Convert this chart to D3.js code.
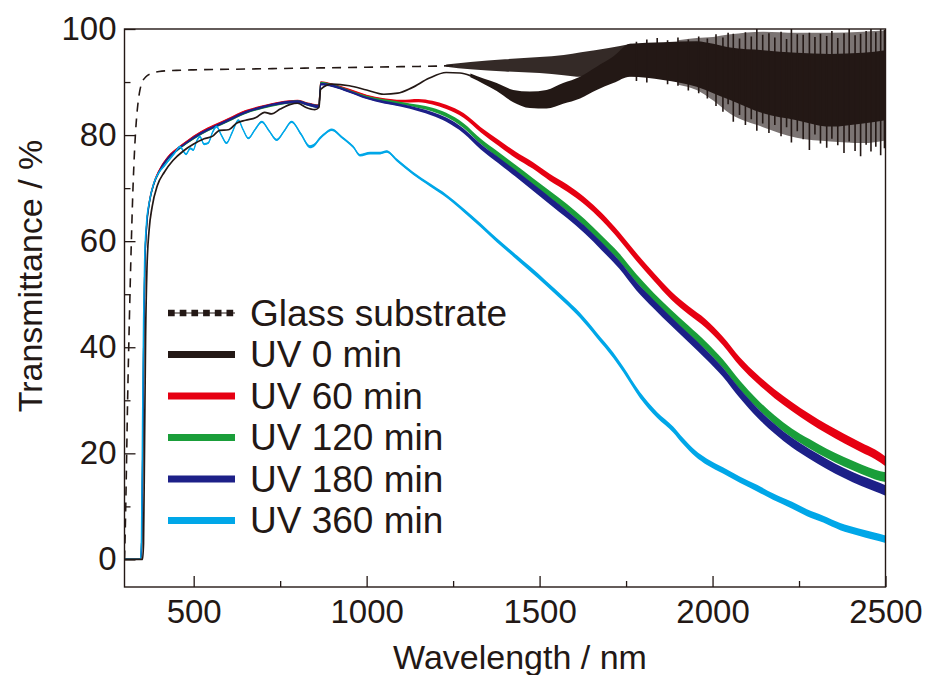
<!DOCTYPE html>
<html lang="en">
<head>
<meta charset="UTF-8">
<title>Transmittance spectra</title>
<script src="https://d3js.org/d3.v7.min.js"></script>
<style>
    body { margin: 0; background: #fff; }
    svg { display: block; font-family: "Liberation Sans", Arial, sans-serif; }
    .tick text { fill: #231815; font-size: 33px; }
    .tick line { stroke: #231815; stroke-width: 1.3; }
    .title { fill: #231815; font-size: 34px; }
    .legend text { fill: #231815; font-size: 37px; }
</style>
</head>
<body>
<svg width="928" height="675"></svg>
<script>
    // ---- data: [wavelength nm, T %, noise half-width %] ----
    const glass = [[300,0],[302,5],[305,15],[309,30],[314,45],[319,58],[324,69],[329,77],[334,82.5],[339,86],[345,88.6],
        [352,90.1],[362,91],[378,91.6],[400,92],[450,92.2],[500,92.3],[600,92.4],[700,92.5],[800,92.6],[900,92.7],
        [1000,92.8],[1100,92.9],[1200,93],[1250,93.1]];
    // noisy part of the glass trace: [nm, low, high]
    const glassBand = [[1230,92.9,93.3],[1300,92.4,93.8],[1400,92,94.3],[1500,91.7,94.7],[1570,91.3,95.1],[1620,91,95.6],
        [1700,91.1,96.4],[1765,91.1,97.2]];

    const uv0 = [[300,0],[352,0],[355,3],[358,22],[361,42],[365,55],[371,62],[380,66.5],[395,70.5],[415,73],[440,75.2],
        [470,77],[500,78.3],[530,79.3],[555,79.8],[575,80.9],[600,81],[625,82.3],[650,82.8],[680,83.3],[705,84.3],
        [725,84],[750,84.9],[780,85.8],[800,86],[825,85.2],[850,84.8],[862,85.2],[867,88.6],[900,89.6],[950,89.3],
        [1000,88.5],[1050,87.7],[1090,87.9],[1130,88.9],[1180,90.7],[1230,91.8],[1270,91.7],[1300,91.2],[1340,90]];
    // interference fringes of UV 0 min (dense core): [nm, low, high]
    const uv0Band = [[1300,90.9,91.6],[1340,89.6,90.6],[1376,88.3,89.8],[1424,86.2,88.5],[1472,85.1,88.2],[1520,85,88.5],
        [1568,85.9,89.8],[1617,86.9,91],[1665,88.5,92.9],[1713,89.8,94.8],[1761,91,97.2],[1857,90.4,97.5],
        [1954,89.1,97.7],[2002,87.9,97.2],[2051,86.6,96.5],[2146,84.1,96],[2243,82.8,95.5],[2340,81.6,95.3],
        [2435,82.2,95.5],[2500,82.8,96]];
    // outer, sparse part of the fringes
    const uv0Fringe = [[1900,89.5,97.9],[1954,88.5,98.3],[2002,86.5,98.5],[2051,84,99],[2146,81.5,99.5],[2243,79.5,99.3],
        [2340,78.8,99.3],[2435,78.5,99.5],[2500,79,99.7]];
    // single tall fringe spikes: [nm, low, high]
    const uv0Spikes = [[1780,90.2,97.6],[1810,89.9,98],[1840,90.6,98.3],[1870,89.6,97.9],[1900,89.3,98.4],[1930,88.4,98],
        [1960,87.9,98.6],[1985,86.9,98.2],[2010,85.5,99],[2030,84.4,98.4],[2045,85.8,99.3],[2060,82.5,99.1],
        [2078,83.8,98.2],[2095,81.9,99.4],[2112,83,98.6],[2128,80.8,100],[2145,82.2,98.9],[2163,80.4,99.2],
        [2180,81.9,98.4],[2198,79.8,99.5],[2214,81.5,98.1],[2228,78.6,100],[2245,80.7,99],[2262,79.2,98.9],
        [2280,77.2,99.3],[2296,80.1,98.5],[2312,78.4,99.1],[2330,77.6,98.7],[2345,79.3,99.6],[2362,78.1,98.3],
        [2380,76.6,99.2],[2395,78.8,100],[2412,77,98.8],[2428,76,99.1],[2444,78.2,99.6],[2458,76.9,100],
        [2472,77.8,99.4],[2486,76.2,100],[2497,77.5,99.8]];

    const uv60 = [[300,0,0.12],[347,0,0.12],[350,4,0.15],[353,22,0.15],[356,44,0.15],[359,56,0.15],[364,63,0.15],[372,67.5,0.18],
        [385,71,0.2],[400,73.3,0.2],[425,75.8,0.2],[450,77.3,0.2],[480,78.8,0.2],[520,80.5,0.22],[560,81.8,0.22],
        [600,83,0.22],[650,84.5,0.22],[700,85.4,0.22],[750,86.1,0.22],[800,86.4,0.25],[830,85.9,0.25],[862,85.5,0.3],
        [867,89.9,0.25],[900,89.5,0.22],[950,88.5,0.22],[1000,87.4,0.22],[1050,86.7,0.25],[1100,86.4,0.25],
        [1150,86.5,0.3],[1190,86.1,0.35],[1230,85.3,0.4],[1280,83.7,0.45],[1330,81,0.5],[1380,78.6,0.55],
        [1430,76.3,0.6],[1480,74.3,0.62],[1530,72,0.65],[1580,70,0.68],[1630,67.6,0.7],[1680,64.6,0.72],[1730,61,0.72],
        [1780,57,0.75],[1830,53.3,0.75],[1880,49.8,0.78],[1930,47,0.78],[1980,44.5,0.8],[2030,41.2,0.8],[2080,37.2,0.82],
        [2130,34,0.82],[2180,31.2,0.85],[2230,28.8,0.85],[2280,26.6,0.88],[2330,24.6,0.88],[2380,22.8,0.9],
        [2430,21.1,0.9],[2470,19.8,0.92],[2500,18.5,0.92]];
    const uv120 = [[300,0,0.12],[347,0,0.12],[350,4,0.15],[353,22,0.15],[356,44,0.15],[359,56,0.15],[364,62.8,0.15],[372,67.3,0.18],
        [385,70.8,0.2],[400,73,0.2],[425,75.5,0.2],[450,77,0.2],[480,78.5,0.2],[520,80.2,0.22],[560,81.5,0.22],
        [600,82.7,0.22],[650,84.2,0.22],[700,85.2,0.22],[750,85.9,0.22],[800,86.3,0.25],[830,85.8,0.25],[862,85.4,0.3],
        [867,89.8,0.25],[900,89.4,0.22],[950,88.3,0.22],[1000,87.2,0.22],[1050,86.5,0.25],[1100,86,0.25],
        [1150,85.4,0.3],[1190,84.8,0.35],[1230,83.8,0.4],[1280,81.8,0.45],[1330,78.8,0.5],[1380,76.3,0.55],
        [1430,73.8,0.6],[1480,71.3,0.62],[1530,68.8,0.65],[1580,66.3,0.68],[1630,63.5,0.7],[1680,60.3,0.72],[1730,57,0.72],
        [1780,53,0.75],[1830,49.5,0.75],[1880,46.3,0.78],[1930,43.3,0.78],[1980,40.3,0.8],[2030,36.9,0.8],[2080,32.8,0.82],
        [2130,29.3,0.82],[2180,26.3,0.85],[2230,23.8,0.85],[2280,21.8,0.88],[2330,20,0.88],[2380,18.4,0.9],
        [2430,17,0.9],[2470,16,0.92],[2500,15.5,0.92]];
    const uv180 = [[300,0,0.12],[347,0,0.12],[350,4,0.15],[353,22,0.15],[356,44,0.15],[359,56,0.15],[364,62.8,0.15],[372,67.3,0.18],
        [385,70.8,0.2],[400,73.1,0.2],[425,75.6,0.2],[450,77.1,0.2],[480,78.6,0.2],[520,80.3,0.22],[560,81.6,0.22],
        [600,82.8,0.22],[650,84.3,0.22],[700,85.3,0.22],[750,86,0.22],[800,86.3,0.25],[830,85.8,0.25],[862,85.4,0.3],
        [867,89.6,0.25],[900,89.3,0.22],[950,88.2,0.22],[1000,87,0.22],[1050,86.2,0.25],[1100,85.6,0.25],
        [1150,84.8,0.3],[1190,84,0.35],[1230,82.9,0.4],[1280,80.8,0.45],[1330,77.8,0.5],[1380,75.3,0.55],
        [1430,72.8,0.6],[1480,70.2,0.65],[1530,67.6,0.68],[1580,65,0.7],[1630,62.2,0.72],[1680,59,0.75],[1730,55.6,0.75],
        [1780,51.5,0.78],[1830,48.1,0.8],[1880,44.9,0.82],[1930,41.8,0.82],[1980,38.7,0.85],[2030,35.3,0.85],[2080,31.2,0.88],
        [2130,27.6,0.9],[2180,24.6,0.9],[2230,22,0.92],[2280,19.9,0.92],[2330,18,0.95],[2380,16.3,0.95],
        [2430,14.8,0.98],[2470,13.8,1],[2500,13,1]];
    const uv360 = [[300,0,0.12],[346,0,0.12],[349,4,0.15],[352,25,0.15],[355,45,0.15],[358,56,0.15],[363,63,0.15],[372,67.5,0.18],
        [385,71,0.2],[400,73,0.2],[415,74.2,0.2],[431,75.5,0.2],[445,76.6,0.2],[460,77.8,0.2],[478,76.4,0.2],
        [490,77.5,0.2],[499,77.2,0.2],[508,78.8,0.2],[518,79.7,0.2],[530,78.3,0.2],[542,78.5,0.2],[555,80.6,0.2],
        [566,81.6,0.2],[580,80,0.2],[595,78.5,0.2],[612,80.6,0.2],[629,82.8,0.2],[643,81,0.2],[658,79.4,0.2],
        [677,81,0.2],[697,82.5,0.2],[718,80.8,0.2],[740,79.1,0.2],[762,80.8,0.2],[783,82.5,0.2],[810,80.2,0.25],
        [836,77.8,0.3],[850,78.2,0.3],[865,79.4,0.3],[882,80.4,0.25],[899,81,0.25],[930,79.5,0.25],[961,77.8,0.25],
        [981,76.2,0.25],[1010,76.6,0.25],[1039,76.6,0.25],[1058,76.9,0.25],[1087,75.3,0.28],[1134,72.8,0.3],
        [1183,70.6,0.3],[1231,68.5,0.32],[1279,65.9,0.35],[1328,63.1,0.38],[1376,60.2,0.4],[1424,57.5,0.42],
        [1472,54.8,0.45],[1520,52,0.45],[1570,49,0.48],[1617,46,0.5],[1665,42.3,0.5],[1713,38.5,0.52],[1742,35.8,0.52],
        [1790,31,0.55],[1840,27.2,0.55],[1886,24.5,0.55],[1915,22.3,0.58],[1950,20,0.58],[1984,18.4,0.6],[2030,16.8,0.6],
        [2080,15,0.6],[2130,13.4,0.62],[2176,11.8,0.62],[2230,10.2,0.65],[2273,8.8,0.65],[2320,7.6,0.65],[2369,6.2,0.68],
        [2420,5.2,0.68],[2465,4.4,0.7],[2500,3.8,0.7]];

    const legendLabels = ["Glass substrate", "UV 0 min", "UV 60 min", "UV 120 min", "UV 180 min", "UV 360 min"];
    const xTicks = [500, 1000, 1500, 2000, 2500];
    const xMinor = [750, 1250, 1750, 2250];
    const yTicks = [0, 20, 40, 60, 80, 100];
    const yMinor = [10, 30, 50, 70, 90];

    const ink = "#231815";
    const colors = { uv60: "#e60012", uv120: "#1a9e3a", uv180: "#1d2088", uv360: "#00a7e8" };

    const svg = d3.select("svg");
    const plotL = 124.5, plotR = 885.5, plotT = 29, plotB = 587;

    const x = d3.scaleLinear().domain([300, 2500]).range([plotL, plotR]);
    const y = d3.scaleLinear().domain([-5.2, 100]).range([plotB, plotT]);

    svg.append("defs").append("clipPath").attr("id", "plot")
        .append("rect").attr("x", plotL).attr("y", plotT - 4).attr("width", plotR - plotL).attr("height", plotB - plotT + 4);

    const g = svg.append("g").attr("clip-path", "url(#plot)");

    const curve = d3.curveMonotoneX;
    const line = d3.line().curve(curve).x(d => x(d[0])).y(d => y(d[1]));
    const band = d3.area().curve(curve).x(d => x(d[0])).y0(d => y(d[1] - d[2])).y1(d => y(d[1] + d[2]));
    const lohi = d3.area().curve(curve).x(d => x(d[0])).y0(d => y(d[1])).y1(d => y(d[2]));

    // glass substrate
    g.append("path").datum(glass).attr("d", line)
        .attr("fill", "none").attr("stroke", ink).attr("stroke-width", 1.6).attr("stroke-dasharray", "9,7");
    g.append("path").datum(glassBand).attr("d", lohi).attr("fill", ink).attr("opacity", 0.92);

    // coloured UV series
    [["uv60", uv60], ["uv120", uv120], ["uv180", uv180], ["uv360", uv360]].forEach(([k, data]) => {
        g.append("path").datum(data).attr("d", band).attr("fill", colors[k]);
        g.append("path").datum(data).attr("d", line)
            .attr("fill", "none").attr("stroke", colors[k]).attr("stroke-width", 1.4);
    });

    // UV 0 min
    g.append("path").datum(uv0Fringe).attr("d", lohi).attr("fill", ink).attr("opacity", 0.6);
    g.append("path").datum(uv0Band).attr("d", lohi).attr("fill", ink);
    g.selectAll(".spike").data(uv0Spikes).join("line").attr("class", "spike")
        .attr("x1", d => x(d[0])).attr("x2", d => x(d[0]))
        .attr("y1", d => y(d[1])).attr("y2", d => y(d[2]))
        .attr("stroke", ink).attr("stroke-width", 1.6);
    g.append("path").datum(uv0).attr("d", line)
        .attr("fill", "none").attr("stroke", ink).attr("stroke-width", 1.7);

    // axes (ticks pointing inward)
    svg.append("g").attr("transform", `translate(0,${plotB})`)
        .call(d3.axisBottom(x).tickValues(xTicks).tickFormat(d3.format("d"))
            .tickSizeInner(-11).tickSizeOuter(0).tickPadding(13));
    svg.append("g").attr("transform", `translate(0,${plotB})`)
        .call(d3.axisBottom(x).tickValues(xMinor).tickSizeInner(-6).tickSizeOuter(0).tickFormat(""));
    svg.append("g").attr("transform", `translate(${plotL},0)`)
        .call(d3.axisLeft(y).tickValues(yTicks).tickSizeInner(-11).tickSizeOuter(0).tickPadding(8));
    svg.append("g").attr("transform", `translate(${plotL},0)`)
        .call(d3.axisLeft(y).tickValues(yMinor).tickSizeInner(-6).tickSizeOuter(0).tickFormat(""));
    svg.selectAll(".domain").remove();

    svg.append("rect").attr("x", plotL).attr("y", plotT).attr("width", plotR - plotL).attr("height", plotB - plotT)
        .attr("fill", "none").attr("stroke", ink).attr("stroke-width", 1.4);

    svg.append("text").attr("class", "title").attr("x", (plotL + plotR) / 2 + 15).attr("y", 669)
        .attr("text-anchor", "middle").text("Wavelength / nm");
    svg.append("text").attr("class", "title").attr("transform", "translate(42,276) rotate(-90)")
        .attr("text-anchor", "middle").text("Transmittance / %");

    // legend
    const legendKeys = ["glass", "uv0", "uv60", "uv120", "uv180", "uv360"];
    const lg = svg.append("g").attr("class", "legend");
    legendKeys.forEach((k, i) => {
        const cy = 313 + i * 41.5;
        if (k === "glass") {
            lg.append("line").attr("x1", 168).attr("x2", 235).attr("y1", cy).attr("y2", cy)
                .attr("stroke", ink).attr("stroke-width", 1.2);
            lg.append("line").attr("x1", 168).attr("x2", 235).attr("y1", cy).attr("y2", cy)
                .attr("stroke", ink).attr("stroke-width", 6.5).attr("stroke-dasharray", "6.7,5");
        } else {
            lg.append("line").attr("x1", 168).attr("x2", 235).attr("y1", cy).attr("y2", cy)
                .attr("stroke", k === "uv0" ? ink : colors[k]).attr("stroke-width", 7);
        }
        lg.append("text").attr("x", 250).attr("y", cy + 12.5).text(legendLabels[i]);
    });
</script>
</body>
</html>
